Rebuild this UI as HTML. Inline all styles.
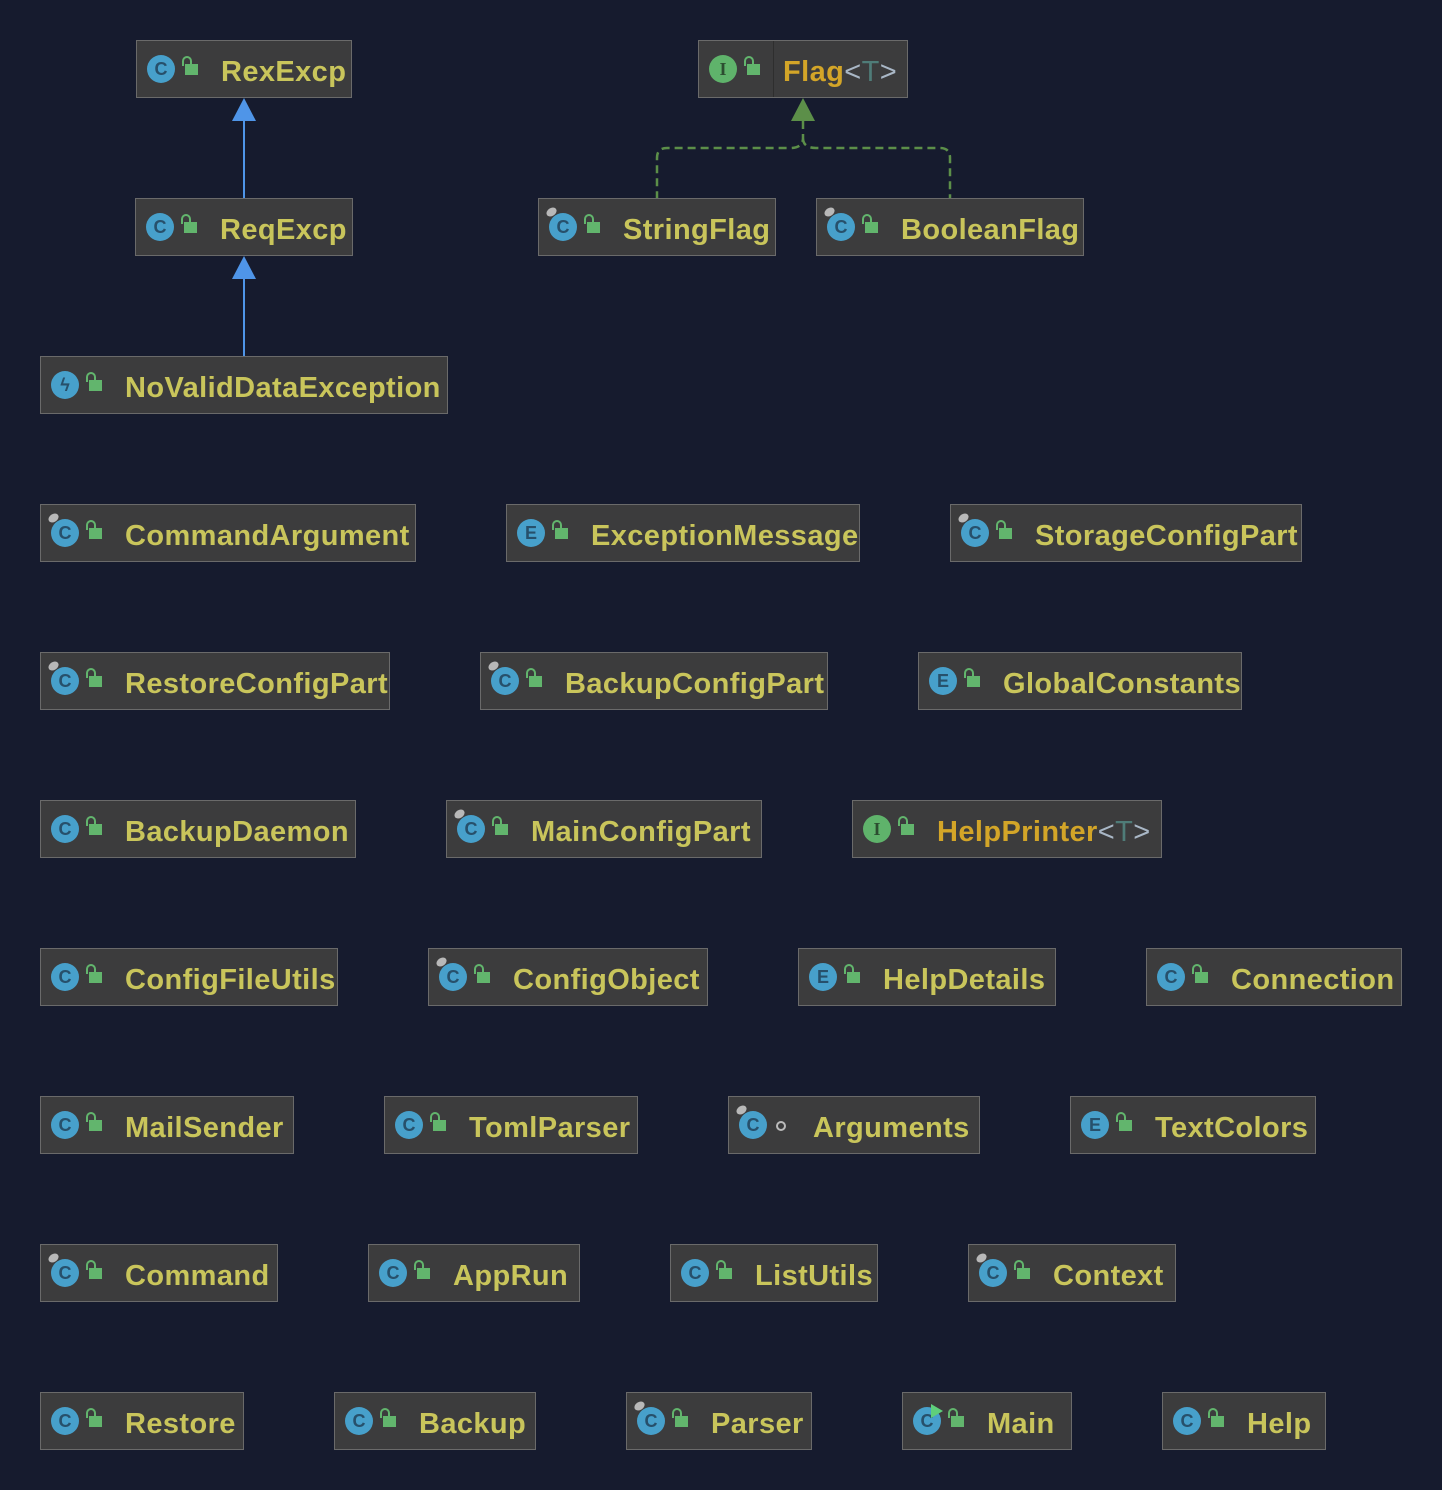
<!DOCTYPE html>
<html><head><meta charset="utf-8"><style>
html,body{margin:0;padding:0}
body{width:1442px;height:1490px;background:#161b2e;position:relative;overflow:hidden;font-family:"Liberation Sans",sans-serif}
.b{position:absolute;height:58px;background:#3c3c3d;border:1px solid #6a6a6a;box-sizing:border-box;white-space:nowrap;overflow:hidden}
.b i{position:absolute;left:10px;top:14px;width:28px;height:28px;border-radius:50%;background:#47a0cb;color:#27506b;font:bold 18px/28px "Liberation Sans",sans-serif;text-align:center;font-style:normal}
.b i.g{background:#5fb36b;color:#2c4d30;font-family:"Liberation Serif",serif}
.b i.d::before{content:"";position:absolute;left:-3px;top:-5px;width:11px;height:8px;border-radius:50%;background:#b8b8b8;transform:rotate(-35deg)}
.b i.m::after{content:"";position:absolute;left:18px;top:-3px;border-left:12px solid #5fcf7b;border-top:7px solid transparent;border-bottom:7px solid transparent}
.b b{position:absolute;left:48px;top:23px;width:13px;height:11px;background:#62b56d}
.b b::before{content:"";position:absolute;left:-3px;top:-8px;width:6px;height:8px;border:2px solid #62b56d;border-bottom:none;border-radius:5px 5px 0 0}
.b b.o{left:47px;top:24px;width:6px;height:6px;background:none;border:2px solid #bbb;border-radius:50%}
.b b.o::before{display:none}
.b span{position:absolute;left:84px;top:1px;line-height:60px;font-size:29px;font-weight:bold;color:#c9c55b;letter-spacing:0.4px}
.b span.y{color:#d3a528}
.b span em{font-style:normal;font-weight:normal;color:#a9b7c6}
.b span em u{text-decoration:none;color:#4f7c78}
</style></head><body>
<svg width="1442" height="1490" style="position:absolute;left:0;top:0">
<line x1="244" y1="120" x2="244" y2="198" stroke="#4f95e8" stroke-width="2"/>
<polygon points="244,98 232,121 256,121" fill="#4f95e8"/>
<line x1="244" y1="278" x2="244" y2="356" stroke="#4f95e8" stroke-width="2"/>
<polygon points="244,256 232,279 256,279" fill="#4f95e8"/>
<polygon points="803,98 791,121 815,121" fill="#5c8f49"/>
<path d="M803,121 V138 Q803,148 790,148 H667 Q657,148 657,158 V198 M803,138 Q803,148 816,148 H940 Q950,148 950,158 V198" fill="none" stroke="#5c8f49" stroke-width="2.5" stroke-dasharray="8,5"/>
</svg>

<div class="b" style="left:136px;top:40px;width:216px"><i>C</i><b></b><span>RexExcp</span></div>
<div class="b" style="left:698px;top:40px;width:210px"><i class="g">I</i><b></b><div style="position:absolute;left:74px;top:0;width:1px;height:58px;background:#2e2e2e"></div><span class="y">Flag<em>&lt;<u>T</u>&gt;</em></span></div>

<div class="b" style="left:135px;top:198px;width:218px"><i>C</i><b></b><span>ReqExcp</span></div>
<div class="b" style="left:538px;top:198px;width:238px"><i class="d">C</i><b></b><span>StringFlag</span></div>
<div class="b" style="left:816px;top:198px;width:268px"><i class="d">C</i><b></b><span>BooleanFlag</span></div>

<div class="b" style="left:40px;top:356px;width:408px"><i>ϟ</i><b></b><span>NoValidDataException</span></div>

<div class="b" style="left:40px;top:504px;width:376px"><i class="d">C</i><b></b><span>CommandArgument</span></div>
<div class="b" style="left:506px;top:504px;width:354px"><i>E</i><b></b><span>ExceptionMessage</span></div>
<div class="b" style="left:950px;top:504px;width:352px"><i class="d">C</i><b></b><span>StorageConfigPart</span></div>

<div class="b" style="left:40px;top:652px;width:350px"><i class="d">C</i><b></b><span>RestoreConfigPart</span></div>
<div class="b" style="left:480px;top:652px;width:348px"><i class="d">C</i><b></b><span>BackupConfigPart</span></div>
<div class="b" style="left:918px;top:652px;width:324px"><i>E</i><b></b><span>GlobalConstants</span></div>

<div class="b" style="left:40px;top:800px;width:316px"><i>C</i><b></b><span>BackupDaemon</span></div>
<div class="b" style="left:446px;top:800px;width:316px"><i class="d">C</i><b></b><span>MainConfigPart</span></div>
<div class="b" style="left:852px;top:800px;width:310px"><i class="g">I</i><b></b><span class="y">HelpPrinter<em>&lt;<u>T</u>&gt;</em></span></div>

<div class="b" style="left:40px;top:948px;width:298px"><i>C</i><b></b><span>ConfigFileUtils</span></div>
<div class="b" style="left:428px;top:948px;width:280px"><i class="d">C</i><b></b><span>ConfigObject</span></div>
<div class="b" style="left:798px;top:948px;width:258px"><i>E</i><b></b><span>HelpDetails</span></div>
<div class="b" style="left:1146px;top:948px;width:256px"><i>C</i><b></b><span>Connection</span></div>

<div class="b" style="left:40px;top:1096px;width:254px"><i>C</i><b></b><span>MailSender</span></div>
<div class="b" style="left:384px;top:1096px;width:254px"><i>C</i><b></b><span>TomlParser</span></div>
<div class="b" style="left:728px;top:1096px;width:252px"><i class="d">C</i><b class="o"></b><span>Arguments</span></div>
<div class="b" style="left:1070px;top:1096px;width:246px"><i>E</i><b></b><span>TextColors</span></div>

<div class="b" style="left:40px;top:1244px;width:238px"><i class="d">C</i><b></b><span>Command</span></div>
<div class="b" style="left:368px;top:1244px;width:212px"><i>C</i><b></b><span>AppRun</span></div>
<div class="b" style="left:670px;top:1244px;width:208px"><i>C</i><b></b><span>ListUtils</span></div>
<div class="b" style="left:968px;top:1244px;width:208px"><i class="d">C</i><b></b><span>Context</span></div>

<div class="b" style="left:40px;top:1392px;width:204px"><i>C</i><b></b><span>Restore</span></div>
<div class="b" style="left:334px;top:1392px;width:202px"><i>C</i><b></b><span>Backup</span></div>
<div class="b" style="left:626px;top:1392px;width:186px"><i class="d">C</i><b></b><span>Parser</span></div>
<div class="b" style="left:902px;top:1392px;width:170px"><i class="m">C</i><b></b><span>Main</span></div>
<div class="b" style="left:1162px;top:1392px;width:164px"><i>C</i><b></b><span>Help</span></div>
</body></html>
